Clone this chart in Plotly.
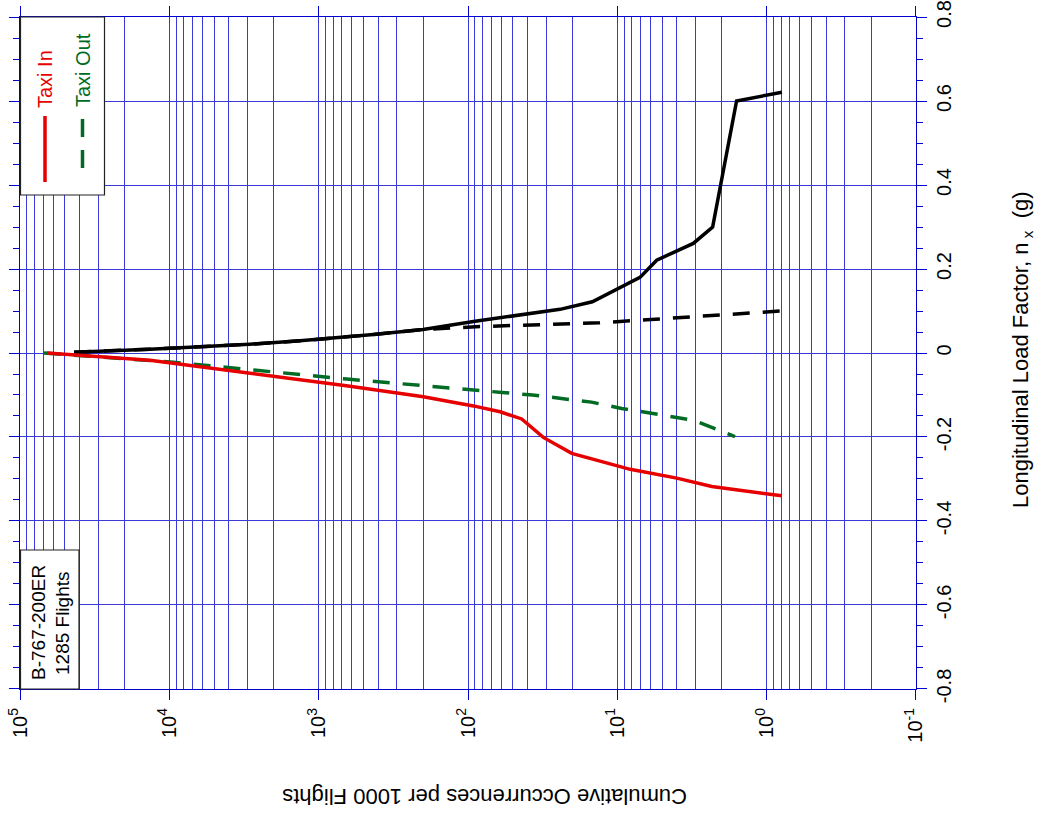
import plotly.graph_objects as go

# ---- data ----
taxi_in_neg_x = [65900, 13500, 617, 199, 92, 61, 43.7, 35, 31.3, 20.2, 8.2, 4.0, 2.33, 0.79]
taxi_in_neg_y = [0.0, -0.017, -0.079, -0.104, -0.126, -0.140, -0.157, -0.185, -0.201, -0.239, -0.277, -0.298, -0.318, -0.340]

taxi_in_pos_x = [43500, 13500, 2900, 1334, 430, 200, 92, 24.2, 14.7, 7.05, 5.45, 3.1, 2.3, 1.59, 0.79]
taxi_in_pos_y = [0.002, 0.009, 0.021, 0.029, 0.044, 0.056, 0.075, 0.104, 0.122, 0.180, 0.221, 0.261, 0.300, 0.600, 0.621]

taxi_out_neg_x = [69100, 9400, 649, 154, 92, 59, 37, 23.6, 14.9, 9.35, 5.89, 3.1, 1.98, 1.63]
taxi_out_neg_y = [0.0, -0.022, -0.062, -0.080, -0.087, -0.094, -0.100, -0.108, -0.117, -0.132, -0.144, -0.160, -0.187, -0.199]

taxi_out_pos_x = [43500, 13500, 2900, 1334, 430, 200, 83, 24.2, 13.1, 6.36, 0.81]
taxi_out_pos_y = [0.002, 0.009, 0.021, 0.029, 0.044, 0.056, 0.063, 0.068, 0.072, 0.079, 0.100]

x_tick_vals = [1e5, 1e4, 1e3, 1e2, 1e1, 1e0, 1e-1]
x_tick_text = ["10<sup>5</sup>", "10<sup>4</sup>", "10<sup>3</sup>", "10<sup>2</sup>",
               "10<sup>1</sup>", "10<sup>0</sup>", "10<sup>-1</sup>"]
x_minor_vals = [m * 10 ** e for e in range(-1, 5) for m in range(2, 10)]
y_tick_vals = [-0.8, -0.6, -0.4, -0.2, 0, 0.2, 0.4, 0.6, 0.8]
y_tick_text = ["-0.8", "-0.6", "-0.4", "-0.2", "0", "0.2", "0.4", "0.6", "0.8"]

RED = "#E60000"
GREEN = "#006B22"
BLUE = "#0000D0"
GRID = "#3A3ADA"
FONT = "Arial, Liberation Sans, sans-serif"

fig = go.Figure()
fig.add_trace(go.Scatter(x=taxi_out_pos_x, y=taxi_out_pos_y, mode="lines",
                         line=dict(color="black", width=3.5, dash="17px,13px"), showlegend=False))
fig.add_trace(go.Scatter(x=taxi_in_pos_x, y=taxi_in_pos_y, mode="lines",
                         line=dict(color="black", width=3.5), showlegend=False))
fig.add_trace(go.Scatter(x=taxi_out_neg_x, y=taxi_out_neg_y, mode="lines",
                         line=dict(color=GREEN, width=3.5, dash="17px,13px"), showlegend=False))
fig.add_trace(go.Scatter(x=taxi_in_neg_x, y=taxi_in_neg_y, mode="lines",
                         line=dict(color=RED, width=3.5), showlegend=False))

fig.update_xaxes(
    type="log", range=[5.0001, -1.0001], automargin=False, ticklabeloverflow="allow",
    tickmode="array", tickvals=x_tick_vals, ticktext=x_tick_text, tickangle=-90,
    tickfont=dict(family=FONT, size=20, color="black"),
    ticks="outside", ticklen=10, tickcolor=BLUE, tickwidth=1,
    showgrid=True, gridcolor=GRID, gridwidth=1,
    minor=dict(tickmode="array", tickvals=x_minor_vals, showgrid=True, gridcolor=GRID,
               gridwidth=1, ticks=""),
    showline=True, linecolor=BLUE, linewidth=1, mirror="ticks", zeroline=False,
)
fig.update_yaxes(
    range=[-0.8001, 0.8001], side="right", automargin=False, ticklabeloverflow="allow",
    tickmode="array", tickvals=y_tick_vals, ticktext=y_tick_text, tickangle=-90,
    tickfont=dict(family=FONT, size=20, color="black"),
    ticks="outside", ticklen=10, tickcolor=BLUE, tickwidth=1,
    showgrid=True, gridcolor=GRID, gridwidth=1,
    minor=dict(dtick=0.05, tick0=0, ticks="outside", ticklen=6, tickcolor=BLUE, showgrid=False),
    showline=True, linecolor=BLUE, linewidth=1, mirror="ticks", zeroline=False,
)

W, H = 896, 672
def px(x):
    return (x - 20) / W
def py(y):
    return (689 - y) / H

def ann(text, x, y, angle, size, color):
    return dict(text=text, x=px(x), y=py(y), xref="paper", yref="paper", showarrow=False,
                xanchor="center", yanchor="middle", textangle=angle,
                font=dict(family=FONT, size=size, color=color))

shapes = [
    # legend box
    dict(type="rect", xref="paper", yref="paper", x0=px(20.5), x1=px(104.5), y0=py(195), y1=py(17),
         line=dict(color="#222222", width=1.2), fillcolor="white", layer="above"),
    dict(type="line", xref="paper", yref="paper", x0=px(45), x1=px(45), y0=py(182), y1=py(116),
         line=dict(color=RED, width=3.5), layer="above"),
    dict(type="line", xref="paper", yref="paper", x0=px(82.5), x1=px(82.5), y0=py(168), y1=py(119),
         line=dict(color=GREEN, width=3.5, dash="18px,13px"), layer="above"),
    # aircraft box
    dict(type="rect", xref="paper", yref="paper", x0=px(20.5), x1=px(79), y0=py(689), y1=py(550),
         line=dict(color="#222222", width=1.2), fillcolor="white", layer="above"),
]

annotations = [
    ann("Taxi In", 45, 79, -90, 20, RED),
    ann("Taxi Out", 83, 70, -90, 20, GREEN),
    ann("B-767-200ER", 38, 623, -90, 19, "black"),
    ann("1285 Flights", 62, 623, -90, 19, "black"),
    ann("Longitudinal Load Factor, n<sub> x</sub>  (g)", 1022, 350, -90, 22, "black"),
    ann("Cumulative Occurrences per 1000 Flights", 485, 797, 180, 22, "black"),
]

fig.update_layout(
    width=1044, height=818,
    margin=dict(l=20, r=128, t=17, b=129),
    paper_bgcolor="white", plot_bgcolor="white",
    shapes=shapes, annotations=annotations, showlegend=False,
)

# remove the page's default 8px body margin so the figure fills the window
fig.write_html("out.html", config={"displayModeBar": False},
               post_script="document.body.style.margin='0';document.body.style.overflow='hidden';")
